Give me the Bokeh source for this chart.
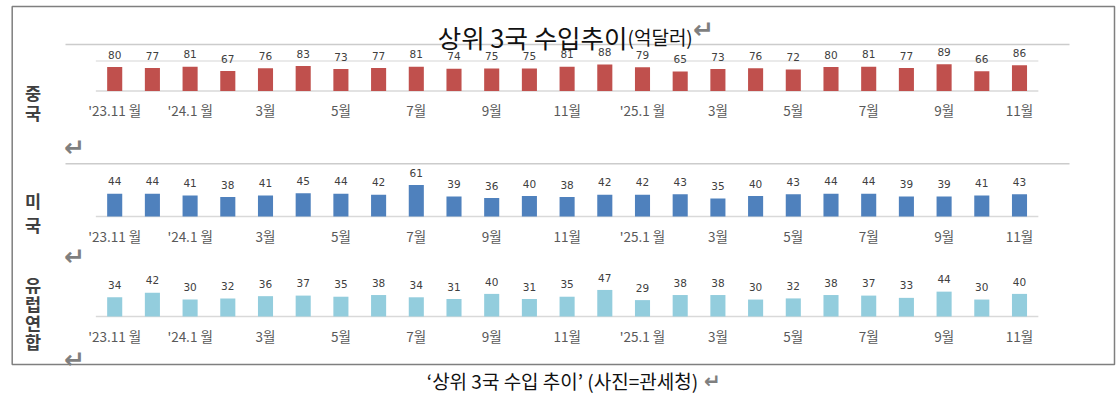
from bokeh.plotting import figure
from bokeh.models import Range1d, ColumnDataSource
from bokeh.core.properties import value
from bokeh.embed import file_html
from bokeh.resources import INLINE

# ---------------- data ----------------
months = ["'23.11 월", "12월", "'24.1 월", "2월", "3월", "4월", "5월", "6월", "7월",
          "8월", "9월", "10월", "11월", "12월", "'25.1 월", "2월", "3월", "4월",
          "5월", "6월", "7월", "8월", "9월", "10월", "11월"]
china = [80, 77, 81, 67, 76, 83, 73, 77, 81, 74, 75, 75, 81, 88, 79, 65, 73, 76, 72, 80, 81, 77, 89, 66, 86]
usa = [44, 44, 41, 38, 41, 45, 44, 42, 61, 39, 36, 40, 38, 42, 42, 43, 35, 40, 43, 44, 44, 39, 39, 41, 43]
eu = [34, 42, 30, 32, 36, 37, 35, 38, 34, 31, 40, 31, 35, 47, 29, 38, 38, 30, 32, 38, 37, 33, 44, 30, 40]
countries = ["중국", "미국", "유럽연합"]
title_main = "상위 3국 수입추이"
title_unit = "(억달러)"
caption = "‘상위 3국 수입 추이’ (사진=관세청)"

# ---------------- layout ----------------
W, H = 1120, 395

KFONT = value("Noto Sans CJK KR")
ARROW = "\u21b5"

p = figure(width=W, height=H, x_range=Range1d(0, W), y_range=Range1d(H, 0),
           output_backend="svg", toolbar_location=None, min_border=0,
           x_axis_location=None, y_axis_location=None,
           outline_line_color=None, background_fill_color="white",
           border_fill_color="white")
p.grid.visible = False

# category index scale (bar 0 centre at x 114.2, step 37.7px)
first_c, step = 114.2, 37.7
p.extra_x_ranges = {"m": Range1d(-first_c / step, (W - first_c) / step)}

n = len(months)
idx = list(range(n))

panels = [
    # name, values, colour, zero-line y, px per unit, tick label y, label char centres, top grid value
    (countries[0], china, "#C0504D", 90.5, 0.30, 109.5, [91.5, 112.0], 100),
    (countries[1], usa, "#4F81BD", 216.0, 0.515, 235.0, [200.0, 224.0], None),
    (countries[2], eu, "#93CDDD", 316.0, 0.565, 335.5, [284.0, 303.0, 322.0, 340.5], None),
]

for j, (name, vals, col, base, k, tick_y, char_ys, topgrid) in enumerate(panels):
    rname = "v%d" % j
    p.extra_y_ranges[rname] = Range1d(-(H - base) / k, base / k)

    src = ColumnDataSource(dict(x=idx, v=vals, lab=[str(v) for v in vals]))
    # gridlines
    p.segment(x0=[-0.5], x1=[n - 0.5], y0=[0], y1=[0], x_range_name="m", y_range_name=rname,
              line_color="#d9d9d9", line_width=1.6)
    if topgrid is not None:
        p.segment(x0=[-0.5], x1=[n - 0.5], y0=[topgrid], y1=[topgrid], x_range_name="m",
                  y_range_name=rname, line_color="#e3e3e3", line_width=1.4)
    p.vbar(x="x", top="v", bottom=0, width=0.4, source=src, fill_color=col, line_color=None,
           x_range_name="m", y_range_name=rname)
    p.text(x="x", y="v", text="lab", source=src, x_range_name="m", y_range_name=rname,
           text_align="center", text_baseline="middle", y_offset=-12.4,
           text_font=value("DejaVu Sans"), text_font_size="10.5px", text_color="#404040")
    # month tick labels (every second month)
    tsrc = ColumnDataSource(dict(x=idx[::2], y=[tick_y] * len(idx[::2]), t=months[::2]))
    p.text(x="x", y="y", text="t", source=tsrc, x_range_name="m",
           text_align="center", text_baseline="middle",
           text_font=KFONT, text_font_size="13.5px", text_color="#595959")
    # vertical country label, one character per line
    p.text(x=[32.5] * len(name), y=char_ys, text=list(name), text_align="center",
           text_baseline="middle", text_font=KFONT, text_font_size="17.5px",
           text_font_style="bold", text_color="#404040")

# long separator lines
p.segment(x0=[65, 65], x1=[1069, 1069], y0=[44, 163.3], y1=[44, 163.3],
          line_color="#cccccc", line_width=1.5)

# outer frame
p.quad(left=[11.7], right=[1114], top=[6], bottom=[364], fill_color=None,
       line_color="#7f7f7f", line_width=1.5)

# paragraph marks
p.text(x=[74, 74, 74, 703], y=[147, 256, 359, 29], text=[ARROW] * 4,
       text_align="center", text_baseline="middle", text_font=value("DejaVu Sans"),
       text_font_size="25px", text_font_style="bold", text_color="#7f7f7f")
p.text(x=[712], y=[380], text=[ARROW], text_align="center", text_baseline="middle",
       text_font=value("DejaVu Sans"), text_font_size="20px", text_font_style="bold",
       text_color="#7f7f7f")

# title
p.text(x=[627], y=[35.5], text=[title_main], text_align="right",
       text_baseline="alphabetic", text_font=KFONT, text_font_size="25.5px", text_color="#111111")
p.text(x=[627], y=[35.5], text=[title_unit], text_align="left",
       text_baseline="alphabetic", text_font=KFONT, text_font_size="19px", text_color="#111111")

# caption
p.text(x=[562], y=[380], text=[caption], text_align="center", text_baseline="middle",
       text_font=KFONT, text_font_size="19px", text_color="#111111")

open("out.html", "w").write(file_html(p, INLINE))
